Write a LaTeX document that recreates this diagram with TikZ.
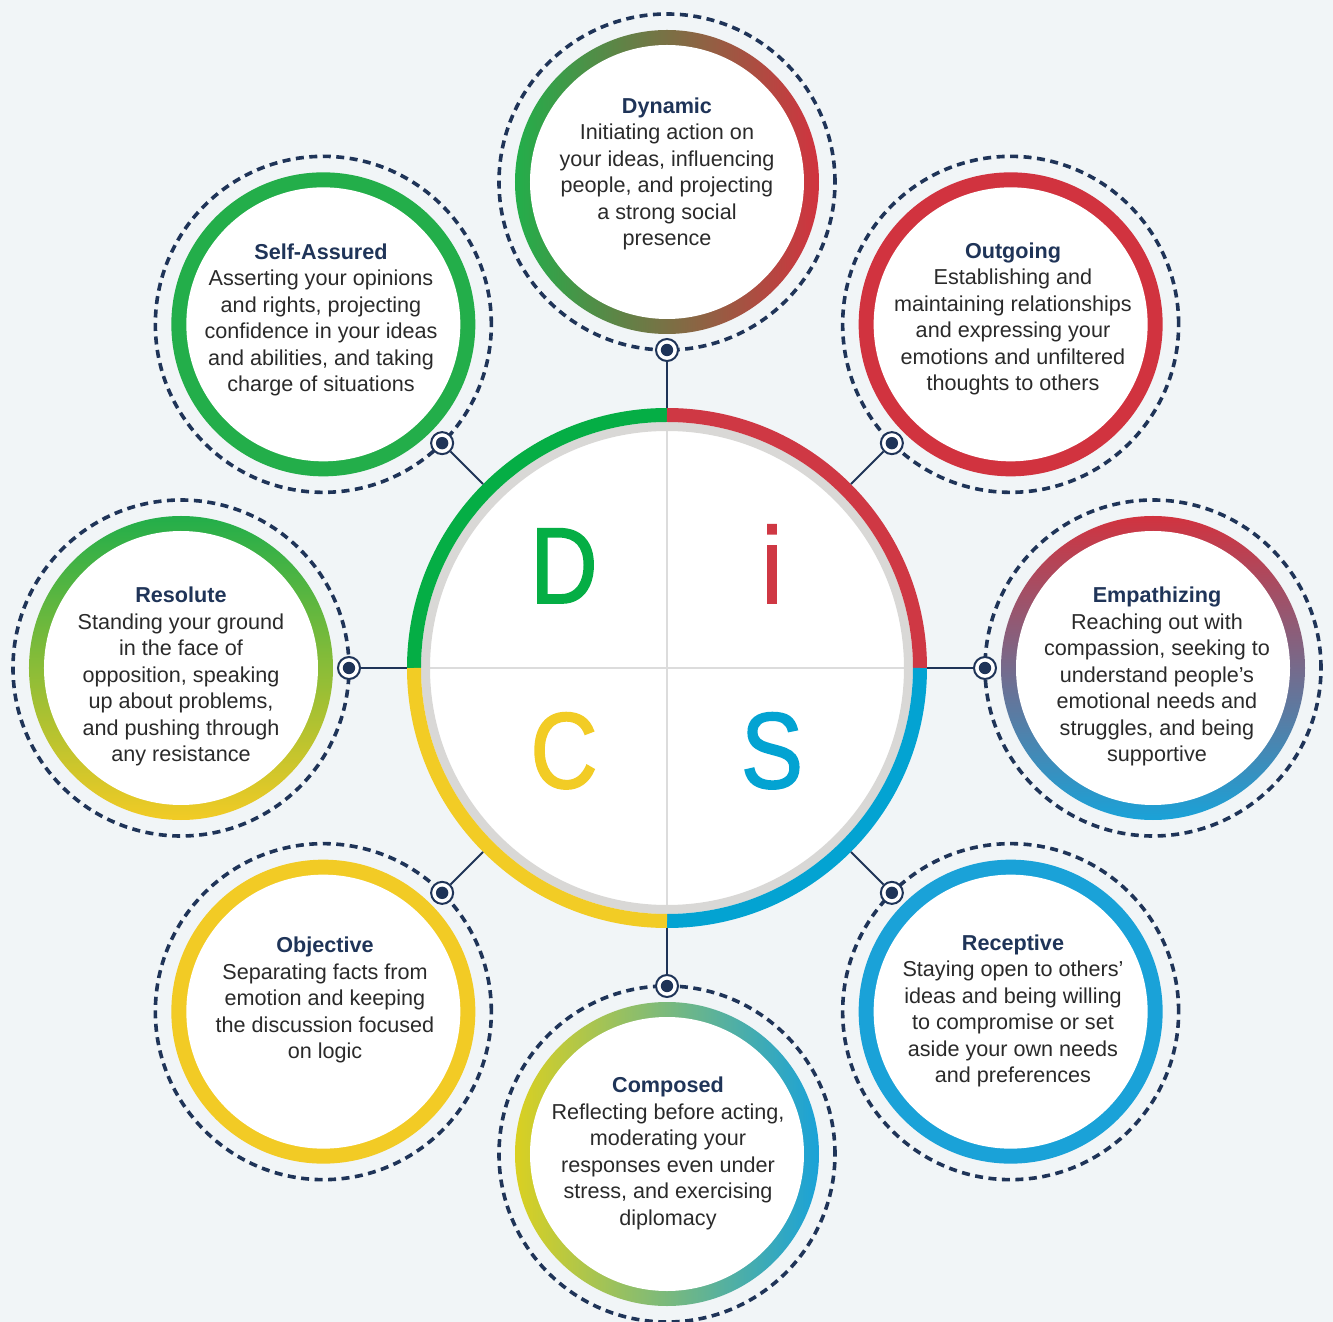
\documentclass[tikz,border=0pt]{standalone}
\usepackage{fontspec}
\setmainfont{Liberation Sans}
\newfontfamily\bigfont[FakeStretch=0.86,FakeBold=1.6]{Liberation Sans}
\definecolor{bg}{HTML}{F1F5F7}
\definecolor{navy}{HTML}{1F3458}
\definecolor{bodyc}{HTML}{2A2A2A}
\definecolor{dgreen}{HTML}{05AE45}
\definecolor{dred}{HTML}{CF3844}
\definecolor{dyellow}{HTML}{F2CC25}
\definecolor{dblue}{HTML}{03A3D2}
\definecolor{sgreen}{HTML}{23AE4A}
\definecolor{sred}{HTML}{D1333F}
\definecolor{sblue}{HTML}{1AA2D8}
\definecolor{syellow}{HTML}{F2CB25}
\definecolor{ringgrey}{HTML}{D9D8D6}
\definecolor{crossgrey}{HTML}{DCDCDC}
\newcommand{\ttl}[1]{{\bfseries\color{navy}#1}}
\begin{document}
\begin{tikzpicture}[x=1pt,y=1pt,
  dashring/.style={navy, line width=3.6, dash pattern=on 8 off 5.5},
  satnode/.style={circle, inner sep=0, minimum size=304},
  dotnode/.style={circle, draw=navy, line width=2, fill=white, minimum size=22, inner sep=0,
    path picture={\fill[navy] (path picture bounding box.center) circle (6.2);}},
  conn/.style={navy, line width=1.8},
  txt/.style={align=center, text=bodyc, font=\fontsize{21.6}{26.5}\selectfont, inner sep=0},
  bigletter/.style={anchor=base, inner sep=0, font=\bigfont\fontsize{108}{108}\selectfont}
]
\useasboundingbox (-667,-654) rectangle (666,668);
\fill[bg] (-667,-654) rectangle (666,668);

% satellite positions
\foreach \i/\a in {1/90,2/45,3/0,4/-45,5/-90,6/-135,7/180,8/135}{
  \coordinate (c\i) at (\a:486);
  \draw[dashring] (c\i) circle (168);
}

% satellite rings
\shade[left color=sgreen, right color=sred] (c1) circle (152);
\fill[sred] (c2) circle (152);
\shade[top color=sred, bottom color=sblue] (c3) circle (152);
\fill[sblue] (c4) circle (152);
\shade[left color=syellow!90!green, right color=sblue] (c5) circle (152);
\fill[syellow] (c6) circle (152);
\shade[top color=sgreen, bottom color=syellow] (c7) circle (152);
\fill[sgreen] (c8) circle (152);
\foreach \i in {1,...,8}{
  \node[satnode, fill=white, minimum size=274] (s\i) at (c\i) {};
}

% texts
\node[txt] (t1) at (0,494) {\ttl{Dynamic}\\Initiating action on\\your ideas, influencing\\people, and projecting\\a strong social\\presence};
\node[txt] (t2) at (346,349) {\ttl{Outgoing}\\Establishing and\\maintaining relationships\\and expressing your\\emotions and unfiltered\\thoughts to others};
\node[txt] (t3) at (490,-8.5) {\ttl{Empathizing}\\Reaching out with\\compassion, seeking to\\understand people’s\\emotional needs and\\struggles, and being\\supportive};
\node[txt] (t4) at (346,-343) {\ttl{Receptive}\\Staying open to others’\\ideas and being willing\\to compromise or set\\aside your own needs\\and preferences};
\node[txt] (t5) at (1,-485.5) {\ttl{Composed}\\Reflecting before acting,\\moderating your\\responses even under\\stress, and exercising\\diplomacy};
\node[txt] (t6) at (-342,-332) {\ttl{Objective}\\Separating facts from\\emotion and keeping\\the discussion focused\\on logic};
\node[txt] (t7) at (-486,-8.5) {\ttl{Resolute}\\Standing your ground\\in the face of\\opposition, speaking\\up about problems,\\and pushing through\\any resistance};
\node[txt] (t8) at (-346,348) {\ttl{Self-Assured}\\Asserting your opinions\\and rights, projecting\\confidence in your ideas\\and abilities, and taking\\charge of situations};

% main circle
\node[circle, inner sep=0, minimum size=520] (main) at (0,0) {};
\fill[white] (0,0) circle (246);
\draw[crossgrey, line width=1.2] (-238,0) -- (238,0) (0,-238) -- (0,238);
\draw[ringgrey, line width=9] (0,0) circle (241.5);
\draw[dgreen, line width=14] (0,253) arc (90:180:253);
\draw[dred, line width=14] (253,0) arc (0:90:253);
\draw[dblue, line width=14] (0,-253) arc (-90:0:253);
\draw[dyellow, line width=14] (-253,0) arc (180:270:253);

\node[bigletter, text=dgreen] (lD) at (-103,65) {D};
\node[bigletter, text=dred] (li) at (105,65) {i};
\node[bigletter, text=dyellow] (lC) at (-103,-120) {C};
\node[bigletter, text=dblue] (lS) at (105,-120) {S};

% dots and connectors
\foreach \i/\a in {1/90,2/45,3/0,4/-45,5/-90,6/-135,7/180,8/135}{
  \node[dotnode] (d\i) at (\a:318) {};
  \draw[conn] (d\i) -- (main);
}
\end{tikzpicture}
\end{document}
